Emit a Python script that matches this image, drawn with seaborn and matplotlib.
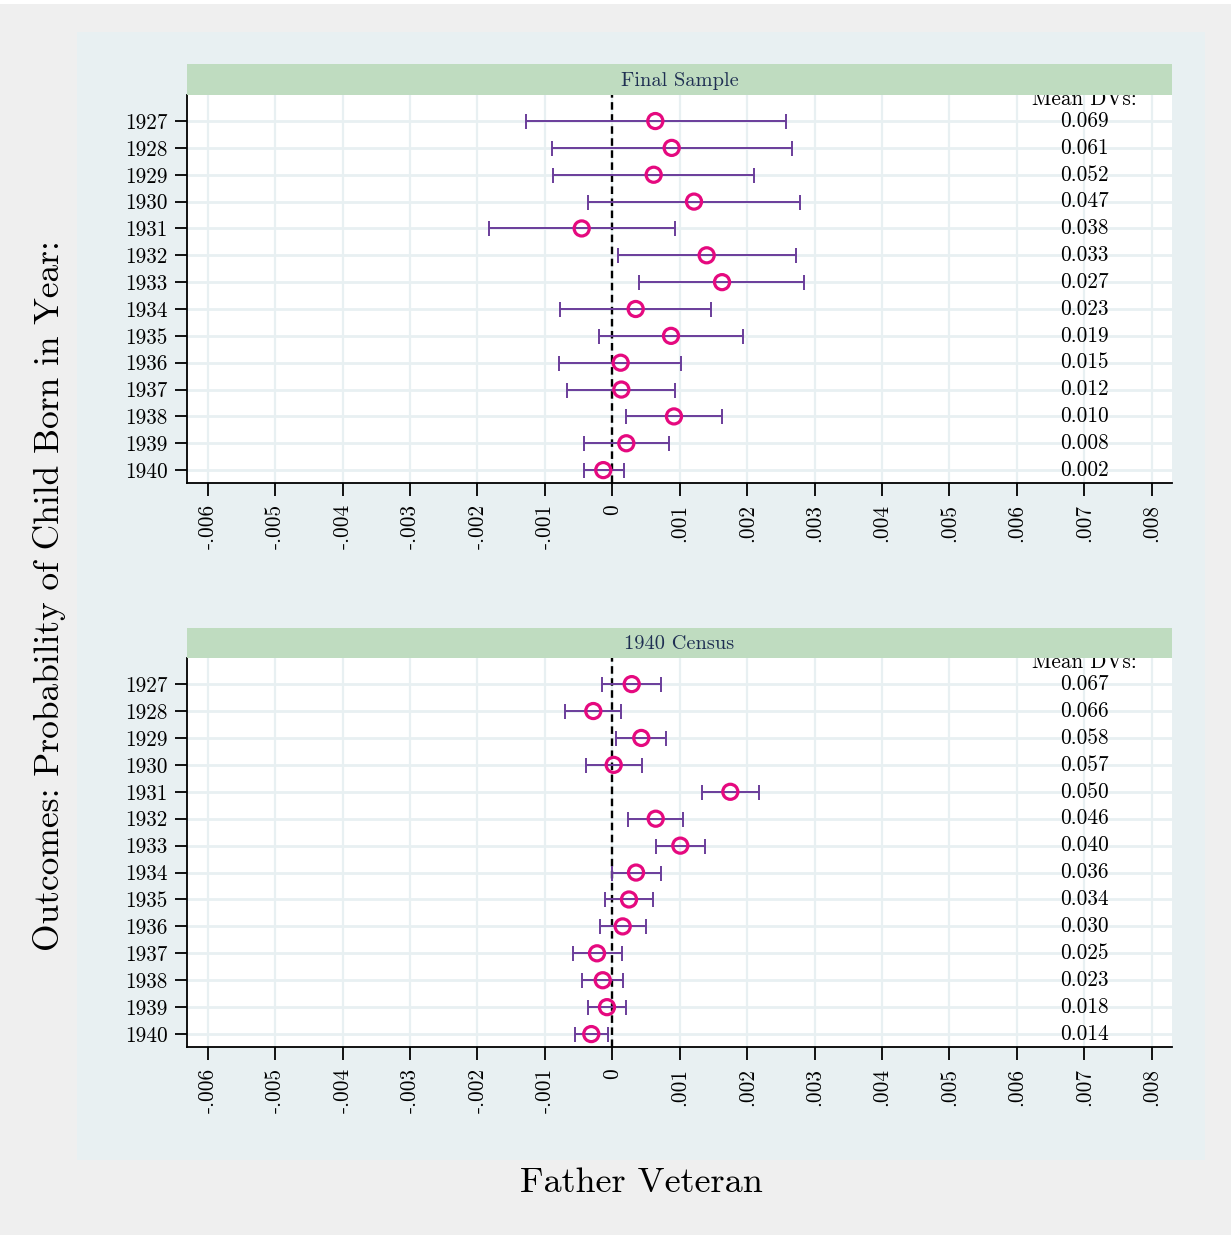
import numpy as np
import pandas as pd
import matplotlib
matplotlib.use("Agg")
import matplotlib.pyplot as plt
import seaborn as sns
from matplotlib.patches import Rectangle

# ---------------- data ----------------
years = [1927, 1928, 1929, 1930, 1931, 1932, 1933, 1934, 1935, 1936, 1937, 1938, 1939, 1940]

fs_coef = [0.638, 0.881, 0.614, 1.212, -0.454, 1.400, 1.628, 0.347, 0.871, 0.124, 0.134, 0.915, 0.208, -0.134]
fs_lo = [-1.285, -0.899, -0.875, -0.361, -1.827, 0.080, 0.401, -0.776, -0.193, -0.786, -0.668, 0.198, -0.415, -0.415]
fs_hi = [2.573, 2.662, 2.107, 2.785, 0.930, 2.726, 2.844, 1.460, 1.935, 1.024, 0.926, 1.632, 0.846, 0.169]
fs_mean = [0.069, 0.061, 0.052, 0.047, 0.038, 0.033, 0.027, 0.023, 0.019, 0.015, 0.012, 0.010, 0.008, 0.002]

c40_coef = [0.288, -0.282, 0.430, 0.021, 1.751, 0.644, 1.009, 0.352, 0.248, 0.154, -0.227, -0.142, -0.079, -0.312]
c40_lo = [-0.157, -0.702, 0.059, -0.390, 1.335, 0.233, 0.648, -0.004, -0.108, -0.182, -0.588, -0.450, -0.361, -0.553]
c40_hi = [0.723, 0.129, 0.797, 0.436, 2.172, 1.053, 1.375, 0.723, 0.608, 0.500, 0.139, 0.163, 0.203, -0.059]
c40_mean = [0.067, 0.066, 0.058, 0.057, 0.050, 0.046, 0.040, 0.036, 0.034, 0.030, 0.025, 0.023, 0.018, 0.014]

panel_titles = ["Final Sample", "1940 Census"]
x_ticks = [-0.006, -0.005, -0.004, -0.003, -0.002, -0.001, 0, 0.001, 0.002, 0.003, 0.004, 0.005, 0.006, 0.007, 0.008]
x_tick_labels = ["-.006", "-.005", "-.004", "-.003", "-.002", "-.001", "0", ".001", ".002", ".003",
                 ".004", ".005", ".006", ".007", ".008"]
mean_label = "Mean DVs:"
y_title = "Outcomes: Probability of Child Born in Year:"
x_title = "Father Veteran"

SCALE = 1e-3  # coefficients above are read in thousandths

# ---------------- style ----------------
sns.set_theme(style="white")
plt.rcParams["font.family"] = ["cmr10", "DejaVu Serif"]
plt.rcParams["axes.unicode_minus"] = False
plt.rcParams["mathtext.fontset"] = "cm"

OUTER = "#efefef"
INNER = "#e8f0f2"
STRIP = "#bfdcc0"
GRID = "#e8f0f2"
PT = "#e5097f"
CI = "#6a3d9a"
TITLE_C = "#1f2f52"
FS = 15.3

W, H = 1231, 1235
fig = plt.figure(figsize=(W / 100, H / 100), dpi=100, facecolor=OUTER)

def fx(px):
    return px / W

def fy(py):
    return 1 - py / H

# inner light region and top white strip (background axes)
bg = fig.add_axes([0, 0, 1, 1], zorder=-10)
bg.set_xlim(0, W)
bg.set_ylim(H, 0)
bg.axis("off")
bg.add_patch(Rectangle((77, 32), 1205 - 77, 1160 - 32, facecolor=INNER, edgecolor="none"))
bg.add_patch(Rectangle((0, 0), W, 4, facecolor="white", edgecolor="none"))

panels = [
    (fs_coef, fs_lo, fs_hi, fs_mean, 95, 483, 64),
    (c40_coef, c40_lo, c40_hi, c40_mean, 658, 1047, 628),
]

for i, (coef, lo, hi, means, top, bot, strip_top) in enumerate(panels):
    left, right = 187, 1172
    ax = fig.add_axes([fx(left), fy(bot), fx(right) - fx(left), fy(top) - fy(bot)], zorder=1)
    ax.set_facecolor("white")
    df = pd.DataFrame({
        "year": years,
        "pos": np.arange(len(years)),
        "coef": np.array(coef) * SCALE,
        "lo": np.array(lo) * SCALE,
        "hi": np.array(hi) * SCALE,
    })
    # grid
    for xt in x_ticks:
        ax.axvline(xt, color=GRID, lw=1.6, zorder=0)
    for p in df["pos"]:
        ax.axhline(p, color=GRID, lw=2.0, zorder=0)
    # zero line
    ax.axvline(0, color="black", lw=1.7, ls=(0, (3.2, 1.9)), zorder=1)
    # CIs
    ax.errorbar(df["coef"], df["pos"],
                xerr=[df["coef"] - df["lo"], df["hi"] - df["coef"]],
                fmt="none", ecolor=CI, elinewidth=1.4, capsize=5.4, capthick=1.4, zorder=2)
    # points
    sns.scatterplot(data=df, x="coef", y="pos", ax=ax, marker="o", s=118,
                    facecolor="none", edgecolor=PT, linewidth=2.3, zorder=3, legend=False)
    # mean DVs column
    for p, m in zip(df["pos"], means):
        ax.text(0.007, p, f"{m:.3f}", ha="center", va="center", fontsize=FS, color="black", zorder=4)
    ax.text(0.007, -0.6, mean_label, ha="center", va="baseline", fontsize=FS, color="black",
            clip_on=True, zorder=4)

    ax.set_xlim((left - 612.3) / 67400, (right - 612.3) / 67400)
    ax.set_ylim(13.48, -0.97)
    ax.set_xticks(x_ticks)
    ax.set_xticklabels(x_tick_labels, rotation=90, fontsize=FS)
    ax.set_yticks(df["pos"])
    ax.set_yticklabels([str(y) for y in years], fontsize=FS)
    ax.tick_params(axis="x", direction="out", length=9, width=1.3, pad=6, colors="black", bottom=True)
    ax.tick_params(axis="y", direction="out", length=9, width=1.3, pad=5, colors="black", left=True)
    ax.set_xlabel("")
    ax.set_ylabel("")
    for s in ["top", "right"]:
        ax.spines[s].set_visible(False)
    for s in ["left", "bottom"]:
        ax.spines[s].set_visible(True)
        ax.spines[s].set_color("black")
        ax.spines[s].set_linewidth(1.3)

    # header strip
    sax = fig.add_axes([fx(left), fy(top), fx(right) - fx(left), fy(strip_top) - fy(top)], zorder=2)
    sax.set_facecolor(STRIP)
    sax.set_xticks([])
    sax.set_yticks([])
    for s in sax.spines.values():
        s.set_visible(False)
    sax.text(0.5, 0.45, panel_titles[i], ha="center", va="center", fontsize=14.7,
             color=TITLE_C, transform=sax.transAxes)

fig.text(fx(50), fy(596), y_title, rotation=90, ha="center", va="center", fontsize=25.5, color="black")
fig.text(fx(641), fy(1183), x_title, ha="center", va="center", fontsize=26, color="black")

fig.savefig("out.png", dpi=100, facecolor=OUTER)
